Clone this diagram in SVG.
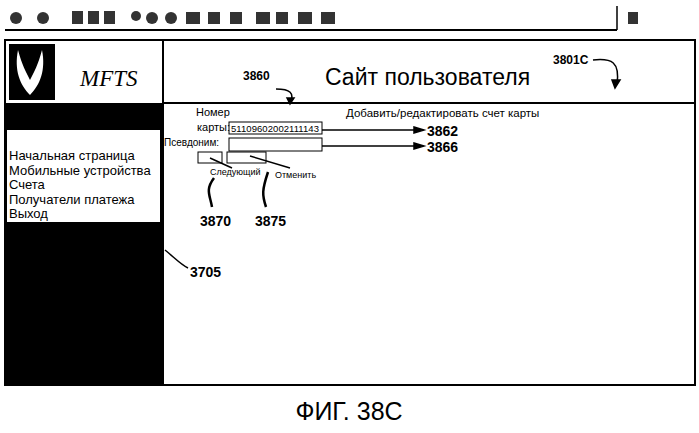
<svg xmlns="http://www.w3.org/2000/svg" width="699" height="433" viewBox="0 0 699 433">
<style>
text{font-family:"Liberation Sans",Arial,sans-serif;fill:#000}
.ln{stroke:#000;fill:none}
.lb{font-weight:bold;font-size:14px}
.mn{font-size:13px}
</style>
<rect width="699" height="433" fill="#fff"/>
<g id="toolbar">
<line class="ln" x1="5" y1="30" x2="617" y2="30" stroke-width="2"/>
<line class="ln" x1="617" y1="6" x2="617" y2="30" stroke-width="1.5"/>
<g fill="#333"><circle cx="16" cy="18" r="6"/><circle cx="43" cy="18" r="6"/><rect x="72" y="11" width="11" height="13"/><rect x="88" y="11" width="11" height="13"/><rect x="104" y="11" width="11" height="13"/><circle cx="136" cy="16" r="5"/><circle cx="152" cy="18" r="6"/><circle cx="171" cy="18" r="6"/><rect x="186" y="12" width="14" height="12"/><rect x="208" y="12" width="12" height="12"/><rect x="230" y="12" width="12" height="12"/><rect x="256" y="12" width="14" height="12"/><rect x="276" y="12" width="12" height="12"/><rect x="298" y="12" width="14" height="12"/><rect x="321" y="12" width="14" height="12"/><rect x="628" y="12" width="10" height="12"/></g>
</g>
<g id="frame">
<rect x="5" y="40" width="690" height="345" class="ln" stroke-width="2"/>
<line class="ln" x1="163" y1="40" x2="163" y2="385" stroke-width="2"/>
<line class="ln" x1="163" y1="103" x2="695" y2="103" stroke-width="2"/>
</g>
<g id="logo">
<rect x="9" y="44" width="46" height="56" fill="#000"/>
<path d="M18 50 C14 70 20 85 30 95 C40 85 46 70 42 50 C38 65 34 72 30 80 C26 72 22 65 18 50Z" fill="#fff"/>
<text x="80" y="86" style="font-family:'Liberation Serif',serif;font-style:italic;font-size:23px">MFTS</text>
</g>
<g id="sidebar">
<rect x="5" y="103" width="158" height="282" fill="#000"/>
<rect x="7" y="130" width="153" height="92" fill="#fff"/>
<text class="mn" x="9" y="160">Начальная страница</text>
<text class="mn" x="9" y="175">Мобильные устройства</text>
<text class="mn" x="9" y="189">Счета</text>
<text class="mn" x="9" y="204">Получатели платежа</text>
<text class="mn" x="9" y="218">Выход</text>
</g>
<g id="header">
<text x="325" y="85" font-size="23">Сайт пользователя</text>
<text x="243" y="80" font-size="12" font-weight="bold">3860</text>
<text x="553" y="64" font-size="12" font-weight="bold">3801C</text>
</g>
<g id="form">
<text x="196" y="116" font-size="11">Номер</text>
<text x="197" y="131" font-size="11">карты:</text>
<rect x="229" y="122" width="93" height="12" class="ln"/>
<text x="231" y="132" font-size="9.5" textLength="88">51109602002111143</text>
<text x="164" y="146" font-size="10">Псевдоним:</text>
<rect x="229" y="138" width="93" height="13" class="ln"/>
<rect x="198" y="152" width="24" height="11" class="ln"/>
<rect x="227" y="152" width="39" height="11" class="ln"/>
<text x="210" y="175" font-size="9">Следующий</text>
<text x="275" y="178" font-size="9">Отменить</text>
<text x="346" y="117" font-size="11.5">Добавить/редактировать счет карты</text>
</g>
<g id="connectors" class="ln" stroke-width="1.5">
<path d="M276 89 C290 89 295 93 290 103"/>
<path d="M287 98 L290 104 L294 98Z" fill="#000"/>
<path d="M593 60 C612 58 620 62 617 84"/>
<path d="M612 80 L615 88 L620 80Z" fill="#000"/>
<line x1="322" y1="130" x2="420" y2="130"/>
<path d="M414 127 L424 130 L414 133Z" fill="#000"/>
<line x1="322" y1="146" x2="420" y2="146"/>
<path d="M414 143 L424 146 L414 149Z" fill="#000"/>
<path d="M210 158 L232 168"/>
<path d="M250 156 L290 168"/>
<path d="M214 178 C205 190 210 195 212 207" stroke-width="2.5"/>
<path d="M268 172 C262 190 262 195 266 207" stroke-width="2.5"/>
<path d="M165 250 C175 258 180 264 188 268"/>
</g>
<g id="labels">
<text class="lb" x="427" y="136">3862</text>
<text class="lb" x="427" y="152">3866</text>
<text class="lb" x="200" y="226">3870</text>
<text class="lb" x="255" y="226">3875</text>
<text class="lb" x="190" y="277">3705</text>
</g>
<text x="349" y="420" font-size="25" text-anchor="middle">ФИГ. 38C</text>
</svg>
